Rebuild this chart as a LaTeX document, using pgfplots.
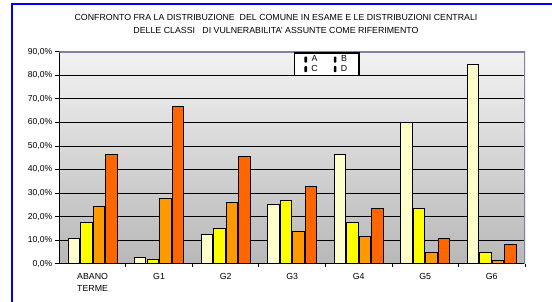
\documentclass[border=0pt]{standalone}
\usepackage{pgfplots}
\pgfplotsset{compat=1.18}
\usepackage{fontspec}
\setmainfont{Liberation Sans}
\definecolor{cA}{HTML}{FFFFCC}
\definecolor{cB}{HTML}{FFFF00}
\definecolor{cC}{HTML}{FF9900}
\definecolor{cD}{HTML}{FF6600}
\definecolor{frameblue}{HTML}{0000FF}
\definecolor{plotborder}{HTML}{8080A8}
\begin{document}
\begin{tikzpicture}
\path[use as bounding box] (0,0) rectangle (552pt,302pt);
\draw[frameblue, line width=2pt] (11.6pt,0) -- (11.6pt,297.6pt) -- (552pt,297.6pt);
\node[align=center, font=\fontsize{8.8}{13}\selectfont] at (276pt,278.5pt)
  {CONFRONTO FRA LA DISTRIBUZIONE\ \ DEL COMUNE IN ESAME E LE DISTRIBUZIONI CENTRALI\\
   DELLE CLASSI\ \ \ DI VULNERABILITA' ASSUNTE COME RIFERIMENTO};
\begin{axis}[
  at={(59.3pt,38.3pt)}, anchor=south west,
  scale only axis, width=465.7pt, height=212pt,
  ybar=1.2pt, bar width=11.4pt,
  xmin=-0.5, xmax=6.5, ymin=0, ymax=90,
  axis background/.style={top color=black!5, bottom color=black!28},
  axis lines=left, axis line style={-, black, line width=1pt},
  xtick={0,...,6}, xticklabels={{ABANO\\TERME},G1,G2,G3,G4,G5,G6},
  xticklabel style={align=center, font=\fontsize{8.8}{11.5}\selectfont, yshift=-2pt},
  major x tick style={draw=none},
  minor xtick={0.5,1.5,2.5,3.5,4.5,5.5,6.5},
  minor x tick style={black, line width=0.8pt},
  minor tick length=3pt,
  ytick={0,10,...,90},
  yticklabels={{0,0\%},{10,0\%},{20,0\%},{30,0\%},{40,0\%},{50,0\%},{60,0\%},{70,0\%},{80,0\%},{90,0\%}},
  yticklabel style={font=\fontsize{8.6}{9}\selectfont, xshift=1pt},
  major y tick style={black, line width=0.8pt},
  major tick length=4.5pt,
  tick align=outside,
  ymajorgrids, major grid style={black, line width=0.8pt},
  every axis plot/.append style={draw=black, line width=0.9pt},
  legend columns=2,
  legend style={at={(0.5035,0.997)}, anchor=north west, draw=black, line width=1.3pt, fill=white,
    font=\fontsize{8.8}{9}\selectfont, inner xsep=10pt, inner ysep=0.8pt, row sep=-2pt,
    /tikz/every even column/.append style={column sep=14pt}},
  legend image code/.code={\fill[black, draw=none, rounded corners=0.7pt] (0pt,-3pt) rectangle (2.6pt,3pt);
    \path[draw=none, fill=none] (0pt,0pt) -- (5pt,0pt);},
]
\addplot[fill=cA] coordinates {(0,10.6) (1,2.8) (2,12.3) (3,25.0) (4,46.3) (5,59.8) (6,84.4)};
\addplot[fill=cB] coordinates {(0,17.4) (1,2.0) (2,14.9) (3,26.7) (4,17.4) (5,23.3) (6,4.7)};
\addplot[fill=cC] coordinates {(0,24.2) (1,27.6) (2,25.9) (3,13.9) (4,11.5) (5,4.7) (6,1.3)};
\addplot[fill=cD] coordinates {(0,46.3) (1,66.6) (2,45.4) (3,32.8) (4,23.3) (5,10.6) (6,8.2)};
\legend{A,B,C,D}
\draw[plotborder, line width=1.6pt] (rel axis cs:0,1) -- (rel axis cs:1,1) -- (rel axis cs:1,0);
\end{axis}
\end{tikzpicture}
\end{document}
